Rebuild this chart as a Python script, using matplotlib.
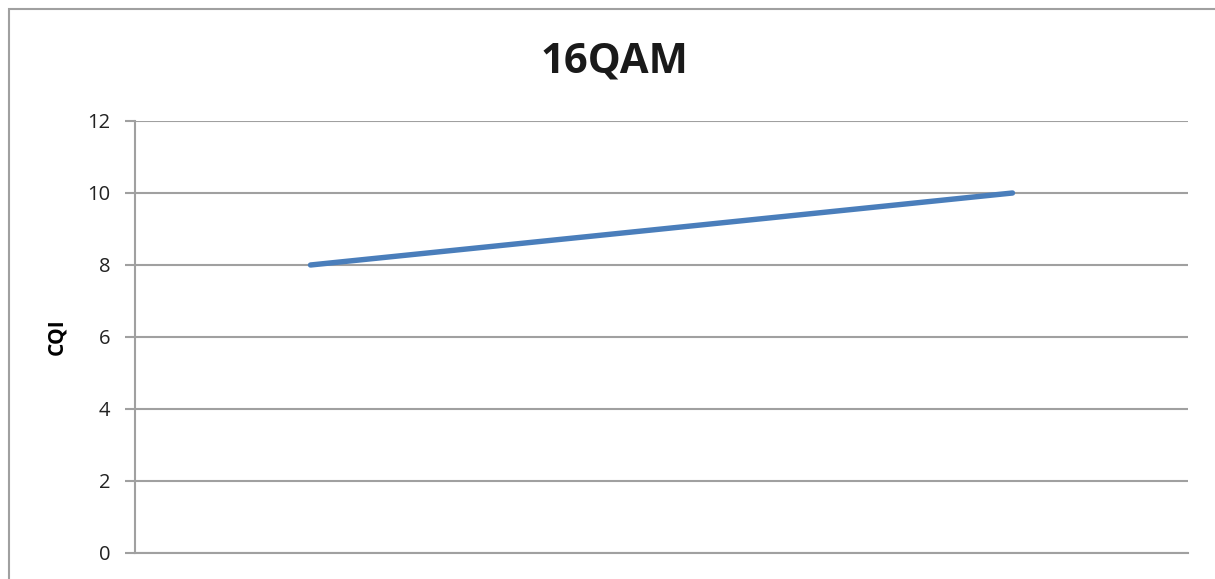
import matplotlib.pyplot as plt
from matplotlib.patches import Rectangle

# CQI per test point for 16QAM
categories = ['1', '2', '3']
cqi = [8, 9, 10]
y_ticks = [0, 2, 4, 6, 8, 10, 12]

plt.rcParams['font.family'] = ['Open Sans', 'DejaVu Sans']

fig = plt.figure(figsize=(12.15, 5.79), dpi=100)
ax = fig.add_axes([135 / 1215, 1 - 553 / 579, (1188 - 135) / 1215, (553 - 121) / 579])

grid_c = '#a0a0a0'
x = list(range(len(categories)))
ax.plot(x, cqi, color='#4a7ebb', linewidth=3.9, solid_capstyle='round', zorder=3)

ax.set_xlim(-0.5, len(categories) - 0.5)
ax.set_ylim(0, 12)
ax.set_yticks(y_ticks)
ax.set_yticklabels([str(v) for v in y_ticks], fontsize=14.5, color='#222222')
ax.set_xticks([])
ax.yaxis.grid(True, color=grid_c, linewidth=1.5)
ax.set_axisbelow(True)

for side in ['top', 'right']:
    ax.spines[side].set_visible(False)
for side in ['left', 'bottom']:
    ax.spines[side].set_color(grid_c)
    ax.spines[side].set_linewidth(1.5)
ax.tick_params(axis='y', length=7, width=1.5, color=grid_c, pad=11)

ax.set_ylabel('CQI', fontsize=15, fontweight='bold', labelpad=14)
fig.text(614 / 1215, 1 - 62 / 579, '16QAM', fontsize=30, fontweight='bold',
         ha='center', va='center', color='#1a1a1a')

# chart area border
fig.patches.append(Rectangle((9 / 1215, -0.1), 1.1, 1.1 - 9 / 579,
                             transform=fig.transFigure, fill=False,
                             edgecolor=grid_c, linewidth=1.5))

fig.savefig('out.png', dpi=100)
